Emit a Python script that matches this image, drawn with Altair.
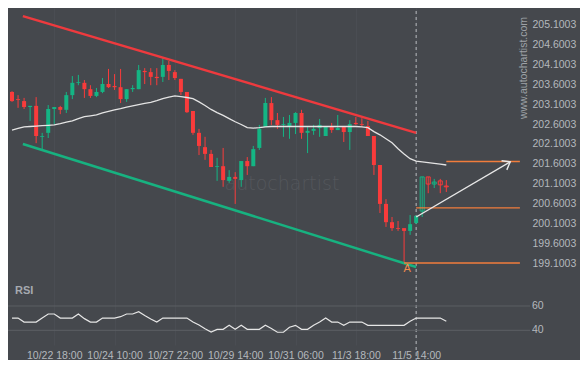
import altair as alt
import pandas as pd

# ---------------- data ----------------
TIME_LABELS = ["10/22 18:00", "10/24 10:00", "10/27 22:00", "10/29 14:00",
               "10/31 06:00", "11/3 18:00", "11/5 14:00"]
LABEL_IDX = [7, 17, 27, 37, 47, 57, 67]

OPEN = [203.41, 203.23, 203.18, 203.03, 203.06, 202.28, 202.38, 202.98, 203.03, 202.96,
        203.33, 203.64, 203.64, 203.48, 203.31, 203.41, 203.61, 203.56, 203.53, 203.23,
        203.48, 203.48, 203.94, 203.91, 203.79, 203.79, 204.09, 203.91, 203.74, 203.41,
        202.93, 202.38, 202.02, 201.85, 201.52, 201.54, 201.17, 201.27, 201.19, 201.67,
        201.54, 202.00, 202.53, 203.13, 202.70, 202.58, 202.55, 202.63, 202.88, 202.38,
        202.43, 202.50, 202.30, 202.53, 202.45, 202.53, 202.40, 202.63, 202.60, 202.55,
        202.30, 201.57, 200.59, 200.13, 199.98, 199.98, 199.91, 200.11,
        200.41, 201.27, 201.09, 201.17, 201.04]
HIGH = [203.43, 203.33, 203.26, 203.06, 203.28, 202.38, 203.08, 203.03, 203.06, 203.41,
        203.81, 203.84, 203.71, 203.58, 203.51, 203.76, 203.99, 203.86, 203.99, 203.48,
        203.58, 204.09, 204.01, 204.01, 204.01, 204.27, 204.19, 203.96, 203.74, 203.41,
        202.93, 202.48, 202.28, 201.95, 201.75, 202.00, 201.44, 201.39, 201.67, 201.77,
        202.05, 202.58, 203.26, 203.28, 202.88, 202.78, 202.83, 202.90, 202.96, 202.53,
        202.58, 202.73, 202.55, 202.63, 202.83, 202.53, 202.70, 202.78, 202.75, 202.68,
        202.30, 201.57, 200.71, 200.26, 200.16, 199.98, 200.31, 200.29,
        201.27, 201.27, 201.22, 201.22, 201.19]
LOW = [203.16, 203.01, 202.98, 202.68, 202.12, 201.97, 202.25, 202.60, 202.85, 202.88,
       203.23, 203.58, 203.26, 203.26, 203.28, 203.38, 203.51, 203.46, 203.13, 203.16,
       203.41, 203.48, 203.61, 203.58, 203.58, 203.66, 203.71, 203.71, 203.33, 202.88,
       202.33, 201.82, 201.70, 201.52, 201.17, 201.02, 201.12, 200.59, 201.02, 201.32,
       201.54, 201.95, 202.53, 202.58, 202.48, 202.28, 202.23, 202.35, 202.23, 201.87,
       202.33, 202.28, 202.30, 202.38, 202.45, 202.15, 201.95, 202.58, 202.53, 202.30,
       201.32, 200.36, 200.01, 199.91, 199.91, 199.10, 199.81, 200.08,
       200.26, 200.86, 200.99, 200.86, 200.89]
CLOSE = [203.18, 203.21, 203.03, 203.06, 202.30, 202.30, 202.98, 203.03, 202.96, 203.33,
         203.64, 203.66, 203.48, 203.31, 203.41, 203.61, 203.53, 203.53, 203.23, 203.48,
         203.51, 203.96, 203.91, 203.79, 203.76, 204.09, 203.94, 203.76, 203.41, 202.90,
         202.38, 202.05, 201.85, 201.52, 201.54, 201.19, 201.27, 201.22, 201.67, 201.54,
         201.97, 202.48, 203.13, 202.70, 202.58, 202.60, 202.63, 202.88, 202.38, 202.43,
         202.48, 202.58, 202.55, 202.45, 202.50, 202.40, 202.60, 202.60, 202.58, 202.30,
         201.57, 200.59, 200.13, 199.98, 199.96, 199.91, 200.08, 200.29,
         201.27, 201.09, 201.14, 201.07, 201.02]
N_ACTUAL = 68  # candles after this are the projected (hollow) ones

MA = [202.45, 202.49, 202.53, 202.54, 202.55, 202.56, 202.57, 202.58, 202.61, 202.65,
      202.68, 202.74, 202.79, 202.81, 202.83, 202.88, 202.92, 202.96, 202.99, 203.03,
      203.06, 203.09, 203.12, 203.15, 203.19, 203.24, 203.28, 203.31, 203.29, 203.27,
      203.24, 203.16, 203.07, 202.97, 202.89, 202.82, 202.74, 202.66, 202.59, 202.51,
      202.50, 202.51, 202.53, 202.54, 202.54, 202.54, 202.54, 202.54, 202.54, 202.54,
      202.54, 202.54, 202.54, 202.54, 202.54, 202.54, 202.54, 202.54, 202.53, 202.51,
      202.41, 202.33, 202.23, 202.13, 201.98, 201.85, 201.73, 201.67,
      201.65, 201.63, 201.61, 201.59, 201.57]

RSI = [50.1, 50.1, 46.8, 46.8, 46.8, 50.1, 53.4, 53.4, 50.1, 50.1,
       50.1, 53.4, 49.6, 46.8, 46.8, 50.1, 50.1, 50.1, 51.2, 53.4,
       53.4, 55.3, 52.1, 49.3, 46.8, 50.1, 50.1, 50.1, 50.1, 50.1,
       46.8, 44.4, 41.2, 38.6, 40.8, 40.8, 44.1, 40.8, 44.1, 40.8,
       40.8, 40.8, 44.1, 41.5, 38.4, 38.4, 42.5, 44.1, 40.8, 40.8,
       44.1, 46.8, 50.1, 46.8, 46.8, 44.1, 46.8, 46.8, 46.8, 44.1,
       44.1, 44.1, 44.1, 44.1, 44.1, 44.1, 47.4, 50.1,
       50.1, 50.1, 50.1, 50.1, 47.4]

Y_TICKS = [199.1003, 199.6003, 200.1003, 200.6003, 201.1003, 201.6003, 202.1003,
           202.6003, 203.1003, 203.6003, 204.1003, 204.6003, 205.1003, 205.6003]
RSI_LEVELS = [40, 60]

CH_I = [1.8, 67]
UPPER_P = [205.32, 202.38]
LOWER_P = [202.10, 199.00]

TARGET_LEVELS = [199.10, 200.49, 201.66]
TARGET_START = [65, 67, 72]
TARGET_END = [84.2, 84.2, 84.2]

ARROW_I = [67, 82.6]
ARROW_P = [200.26, 201.65]
PATTERN_POINT = {"i": [65.5], "p": [198.94], "t": ["A"]}
NOW_IDX = [67]

# ---------------- styling ----------------
BG = "#45484d"
RED = "#f93b3b"
GREEN = "#14b584"
LABEL = "#b4b8bd"
FONT = "Liberation Sans"
W, H = 520, 337

n = len(OPEN)
df = pd.DataFrame({
    "i": list(range(n)), "open": OPEN, "high": HIGH, "low": LOW, "close": CLOSE,
    "ma": MA, "rsi": RSI,
})
df["dir"] = ["up" if c >= o else "down" for o, c in zip(OPEN, CLOSE)]
df["proj"] = [0 if k < N_ACTUAL else 1 for k in range(n)]

xscale = alt.Scale(domain=[0.1626, 84.715], nice=False, zero=False)
pscale = alt.Scale(domain=[197.0361, 205.5247], nice=False, zero=False)
rscale = alt.Scale(domain=[27.90, 305.27], nice=False, zero=False)
cscale = alt.Scale(domain=["up", "down"], range=[GREEN, RED])

expr = " : ".join(f"datum.value == {v} ? '{t}'" for v, t in zip(LABEL_IDX, TIME_LABELS)) + " : ''"
xaxis = alt.Axis(values=LABEL_IDX, labelExpr=expr, title=None, domain=False, ticks=False,
                 grid=True, gridColor="#4a4d53", gridWidth=1, labelColor=LABEL,
                 labelFontSize=10.5, labelFont=FONT, labelPadding=5, labelAngle=0,
                 labelOverlap=False, labelFlush=False)
yaxis = alt.Axis(orient="right", values=Y_TICKS, format=".4f", title=None, domain=False,
                 ticks=False, grid=False, labelColor=LABEL, labelFontSize=10.5,
                 labelFont=FONT, labelPadding=4, labelOverlap=False, labelFlush=False)


def X(field="i"):
    return alt.X(f"{field}:Q", scale=xscale, axis=xaxis)


def PY(field):
    return alt.Y(f"{field}:Q", scale=pscale, axis=yaxis)


base = alt.Chart(df)

# watermark text
wm = alt.Chart(pd.DataFrame({"t": ["autochartist"]})).mark_text(
    font="DejaVu Sans", fontSize=19, fontWeight=200, color="#54575c",
    align="center", baseline="middle"
).encode(x=alt.value(274), y=alt.value(176), text="t:N")
wm2 = alt.Chart(pd.DataFrame({"t": ["www.autochartist.com"]})).mark_text(
    font=FONT, fontSize=10.5, color="#9ea2a7", angle=270, align="center", baseline="middle"
).encode(x=alt.value(516), y=alt.value(60), text="t:N")

now_rule = alt.Chart(pd.DataFrame({"i": NOW_IDX})).mark_rule(
    color="#b8bbbf", strokeDash=[3, 3], strokeWidth=1
).encode(x=X(), y=alt.value(-3), y2=alt.value(352))

wicks = base.mark_rule(strokeWidth=1).encode(
    x=X(), y=PY("low"), y2="high:Q",
    color=alt.Color("dir:N", scale=cscale, legend=None))
bodies = base.transform_filter("datum.proj == 0").mark_bar(size=4).encode(
    x=X(), y=PY("open"), y2="close:Q",
    color=alt.Color("dir:N", scale=cscale, legend=None))
hollow = base.transform_filter("datum.proj == 1").mark_bar(
    size=4, fill="transparent", fillOpacity=0, strokeWidth=1).encode(
    x=X(), y=PY("open"), y2="close:Q",
    stroke=alt.Stroke("dir:N", scale=cscale, legend=None))

ma_line = base.mark_line(color="#e4e4e4", strokeWidth=1.3).encode(x=X(), y=PY("ma"))

upper = alt.Chart(pd.DataFrame({"i": CH_I, "p": UPPER_P})).mark_line(
    strokeWidth=2.5, color="#ee3a3e").encode(x=X(), y=PY("p"))
lower = alt.Chart(pd.DataFrame({"i": CH_I, "p": LOWER_P})).mark_line(
    strokeWidth=2.5, color="#17b280").encode(x=X(), y=PY("p"))

tgt = alt.Chart(pd.DataFrame({"p": TARGET_LEVELS, "s": TARGET_START, "e": TARGET_END})).mark_rule(
    color="#f27d3c", strokeWidth=1.4).encode(x=X("s"), x2="e:Q", y=PY("p"))

arrow_df = pd.DataFrame({"i": ARROW_I, "p": ARROW_P})
arrow = alt.Chart(arrow_df).mark_line(color="#e8e8e8", strokeWidth=1.4).encode(x=X(), y=PY("p"))
arrow_head = alt.Chart(arrow_df.iloc[[1]]).mark_point(
    shape="M -1 -0.75 L 0 0 L -1 0.75", filled=False, color="#e8e8e8", strokeWidth=1.4,
    size=196, angle=330, opacity=1).encode(x=X(), y=PY("p"))

a_label = alt.Chart(pd.DataFrame(PATTERN_POINT)).mark_text(
    color="#f08a4b", fontSize=11, font=FONT, align="center", baseline="middle"
).encode(x=X(), y=PY("p"), text="t:N")

price = alt.layer(wm, wm2, now_rule, wicks, bodies, hollow, ma_line, upper, lower, tgt,
                  arrow, arrow_head, a_label)

# ---------------- RSI panel ----------------
lv = pd.DataFrame({"level": RSI_LEVELS})
rsi_grid = alt.Chart(lv).mark_rule(color="#5c5f64", strokeWidth=1).encode(
    x=alt.value(-1), x2=alt.value(522),
    y=alt.Y("level:Q", scale=rscale, axis=None))
rsi_lab = alt.Chart(lv).mark_text(
    color=LABEL, fontSize=10.5, font=FONT, align="left", baseline="middle"
).encode(x=alt.value(524), y=alt.Y("level:Q", scale=rscale, axis=None), text="level:Q")
rsi_line = base.mark_line(color="#e6e6e6", strokeWidth=1.2).encode(
    x=X(), y=alt.Y("rsi:Q", scale=rscale, axis=None))
rsi_title = alt.Chart(pd.DataFrame({"t": ["RSI"]})).mark_text(
    color="#a6aab0", fontSize=11, fontWeight="bold", font=FONT, align="left", baseline="middle"
).encode(x=alt.value(7), y=alt.value(283), text="t:N")

rsi = alt.layer(rsi_grid, rsi_lab, rsi_line, rsi_title)

chart = alt.layer(price, rsi).resolve_scale(y="independent").properties(
    width=W, height=H,
    autosize=alt.AutoSizeParams(type="none"),
    padding={"left": 0, "top": 0, "right": 52, "bottom": 15},
).configure(background=BG).configure_view(stroke=None)

chart.save("out.html", embed_options={"renderer": "svg", "actions": False})
